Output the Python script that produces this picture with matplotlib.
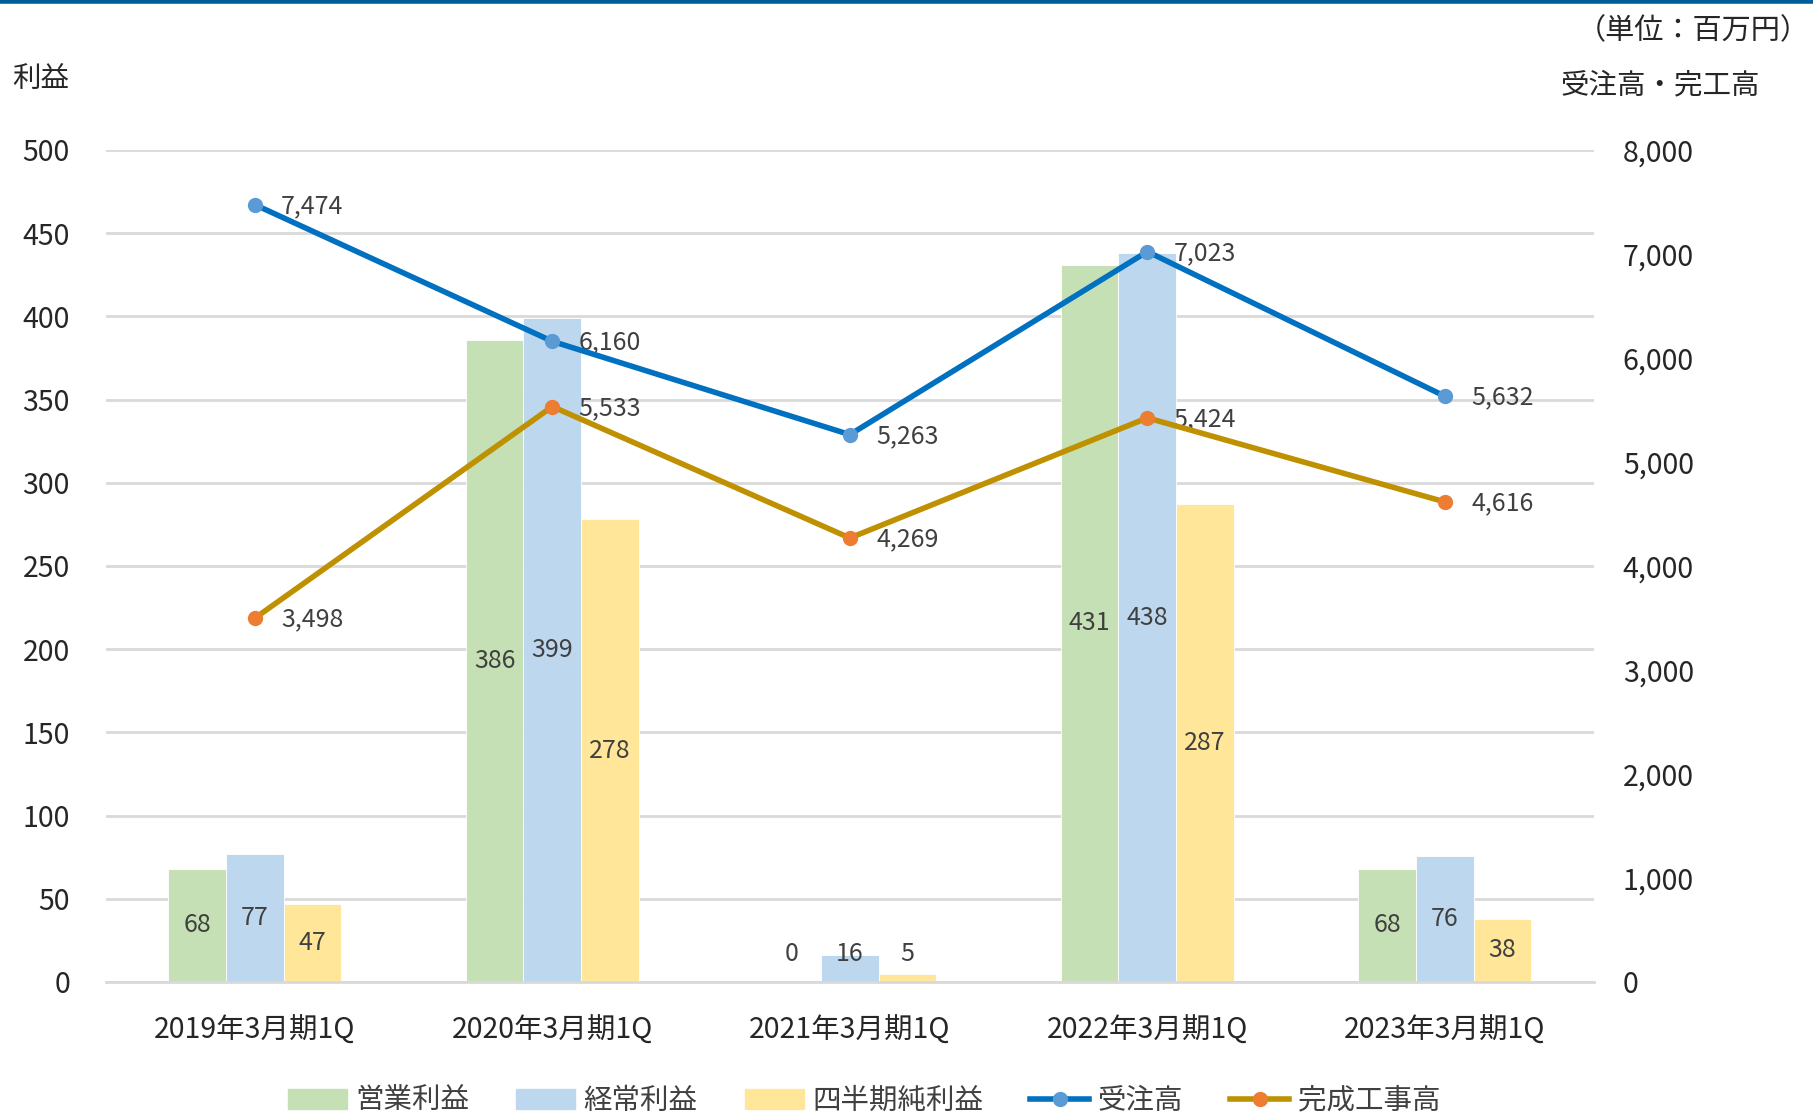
import matplotlib
matplotlib.use("Agg")
import matplotlib.pyplot as plt
import matplotlib.ticker as ticker
from matplotlib.lines import Line2D
import numpy as np

plt.rcParams['font.family'] = ['Noto Sans CJK JP', 'DejaVu Sans']

categories = ["2019年3月期1Q", "2020年3月期1Q", "2021年3月期1Q", "2022年3月期1Q", "2023年3月期1Q"]
eigyo = [68, 386, 0, 431, 68]          # 営業利益
keijo = [77, 399, 16, 438, 76]         # 経常利益
junri = [47, 278, 5, 287, 38]          # 四半期純利益
juchu = [7474, 6160, 5263, 7023, 5632]     # 受注高
kanko = [3498, 5533, 4269, 5424, 4616]     # 完成工事高

left_ticks = [0, 50, 100, 150, 200, 250, 300, 350, 400, 450, 500]
right_ticks = [0, 1000, 2000, 3000, 4000, 5000, 6000, 7000, 8000]

GREEN = "#C5E0B4"
BLUE = "#BDD7EE"
YELLOW = "#FFE699"
GRID = "#D9D9D9"
LBL = "#404040"
TXT = "#262626"

fig = plt.figure(figsize=(18.13, 11.15), dpi=100)
ax = fig.add_axes([0.0585, 0.1193, 0.8205, 0.7462])
ax2 = ax.twinx()

x = np.arange(len(categories))
w = 0.194
bar_sets = [(eigyo, GREEN, -w), (keijo, BLUE, 0), (junri, YELLOW, w)]
for vals, col, off in bar_sets:
    ax.bar(x + off, vals, width=w, color=col, edgecolor="white", linewidth=0.6, zorder=2)
    for xi, v in zip(x, vals):
        ax.text(xi + off, max(v / 2, 17), f"{v}", ha="center", va="center",
                fontsize=18, color=LBL, zorder=5)

ax.set_xlim(-0.5, len(categories) - 0.5)
ax.set_ylim(0, 500)
ax.set_yticks(left_ticks)
ax.set_xticks(x)
ax.set_xticklabels(categories, fontsize=20.5, color=TXT)
ax.tick_params(axis="y", length=0, labelsize=20.5, pad=26, labelcolor=TXT)
ax.tick_params(axis="x", length=0, pad=24)
ax.grid(axis="y", color=GRID, linewidth=2, zorder=0)
ax.set_axisbelow(True)
for s in ["top", "right", "left"]:
    ax.spines[s].set_visible(False)
ax.spines["bottom"].set_color(GRID)
ax.spines["bottom"].set_linewidth(2)

ax2.plot(x, juchu, color="#0070C0", linewidth=4, marker="o", markersize=10,
         markerfacecolor="#5B9BD5", markeredgecolor="#5B9BD5", zorder=4)
ax2.plot(x, kanko, color="#BF9000", linewidth=4, marker="o", markersize=10,
         markerfacecolor="#ED7D31", markeredgecolor="#ED7D31", zorder=4)
for series in (juchu, kanko):
    for xi, v in zip(x, series):
        ax2.annotate(f"{v:,}", (xi, v), xytext=(19, -1), textcoords="offset points",
                     ha="left", va="center", fontsize=18, color=LBL)
ax2.set_ylim(0, 8000)
ax2.set_yticks(right_ticks)
ax2.yaxis.set_major_formatter(ticker.FuncFormatter(lambda v, p: f"{int(v):,}"))
ax2.tick_params(axis="y", length=0, labelsize=20.5, pad=21, labelcolor=TXT)
for s in ["top", "right", "left", "bottom"]:
    ax2.spines[s].set_visible(False)

fig.text(0.007, 0.928, "利益", fontsize=20.5, color=TXT, ha="left", va="center")
fig.text(0.916, 0.923, "受注高・完工高", fontsize=20.5, color=TXT, ha="center", va="center")
fig.text(0.998, 0.972, "（単位：百万円）", fontsize=21, color=TXT, ha="right", va="center")

# top border
fig.add_artist(Line2D([0, 1], [0.999, 0.999], transform=fig.transFigure, color="#005B96", linewidth=4))

handles = [
    plt.Rectangle((0, 0), 1, 1, color=GREEN),
    plt.Rectangle((0, 0), 1, 1, color=BLUE),
    plt.Rectangle((0, 0), 1, 1, color=YELLOW),
    Line2D([], [], color="#0070C0", linewidth=4, marker="o", markersize=10,
           markerfacecolor="#5B9BD5", markeredgecolor="#5B9BD5"),
    Line2D([], [], color="#BF9000", linewidth=4, marker="o", markersize=10,
           markerfacecolor="#ED7D31", markeredgecolor="#ED7D31"),
]
labels = ["営業利益", "経常利益", "四半期純利益", "受注高", "完成工事高"]
fig.legend(handles, labels, loc="center", bbox_to_anchor=(0.4765, 0.013), ncol=5,
           frameon=False, fontsize=20.5, handlelength=2.07, handletextpad=0.3,
           columnspacing=1.65, labelcolor=LBL)

fig.savefig("out.png", dpi=100)
